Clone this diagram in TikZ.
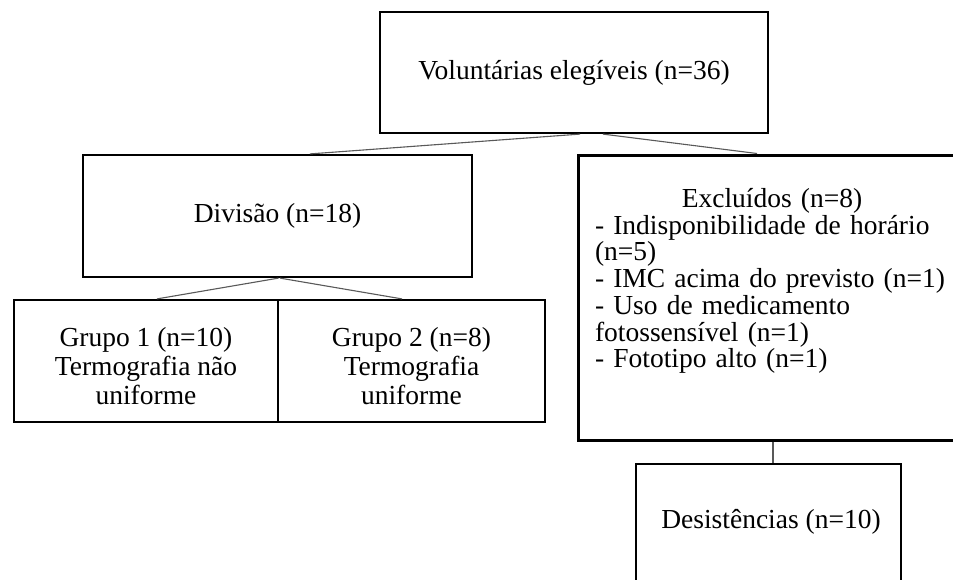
\documentclass[tikz,border=0pt]{standalone}
\usepackage{fontspec}
\setmainfont{Liberation Serif}
\usetikzlibrary{calc}
\begin{document}
\begin{tikzpicture}[x=1pt,y=-1pt,
  box/.style={draw=black, line width=2.2pt, fill=white, inner sep=0pt},
  conn/.style={draw=black!65, line width=1.1pt},
  txt/.style={font=\fontsize{27.5}{27}\selectfont, inner sep=0pt}]
\fill[white] (0,0) rectangle (953,579);
\useasboundingbox (0,0) rectangle (953,579);
% boxes
\node[box, minimum width=388pt, minimum height=121pt, txt] (top) at (574,72.5) {Voluntárias elegíveis (n=36)};
\node[box, minimum width=389pt, minimum height=122pt, txt] (div) at (277.5,216) {Divisão (n=18)};
\node[box, minimum width=264pt, minimum height=122pt] (g1) at (146,361) {};
\node[txt, align=center, font=\fontsize{27.5}{29}\selectfont] (g1text) at (146,366)
      {Grupo 1 (n=10)\\Termografia não\\uniforme};
\node[box, minimum width=267pt, minimum height=122pt] (g2) at (411.5,361) {};
\node[txt, align=center, font=\fontsize{27.5}{29}\selectfont] (g2text) at (411.5,366)
      {Grupo 2 (n=8)\\Termografia\\uniforme};
\node[box, line width=3pt, minimum width=388pt, minimum height=285pt] (exc) at (772,297.5) {};
\node[txt, text width=354pt, align=left, font=\fontsize{27.5}{26.7}\selectfont] (exctext) at (772,281)
  {\makebox[354pt][c]{Excluídos (n=8)}\\
   - Indisponibilidade de horário\\
   (n=5)\\
   - IMC acima do previsto (n=1)\\
   - Uso de medicamento\\
   fotossensível (n=1)\\
   - Fototipo alto (n=1)};
\node[box, minimum width=265pt, minimum height=120pt] (des) at (768.5,524) {};
\node[txt] (destext) at (771,522) {Desistências (n=10)};
% connectors
\draw[conn] ([xshift=6pt]top.south) -- ([xshift=32.5pt]div.north);
\draw[conn] ([xshift=29pt]top.south) -- ([xshift=-15pt]exc.north);
\draw[conn] ([xshift=1pt]div.south) -- ([xshift=11pt]g1.north);
\draw[conn] ([xshift=2.5pt]div.south) -- ([xshift=-9.5pt]g2.north);
\draw[conn] ([xshift=1pt]exc.south) -- ([xshift=1pt]exc.south |- des.north);
\end{tikzpicture}
\end{document}
